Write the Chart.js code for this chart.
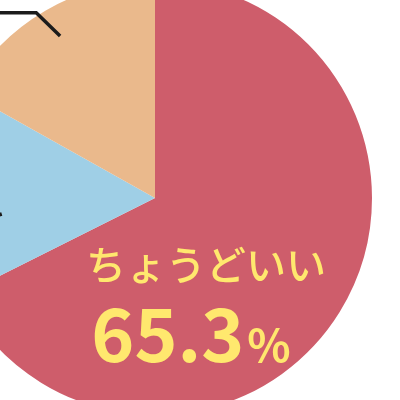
<!DOCTYPE html>
<html>
<head>
<meta charset="utf-8">
<script src="https://cdn.jsdelivr.net/npm/chart.js@4"></script>
<style>
  html, body { margin: 0; padding: 0; width: 400px; height: 400px; overflow: hidden; background: #fff; }
  #wrap { position: absolute; left: -62px; top: -19px; width: 434px; height: 434px; }
</style>
</head>
<body>
<div id="wrap"><canvas id="pie"></canvas></div>
<script>
// answers (the rest of 100% is "no answer", not drawn)
const categories = ["ちょうどいい", "少ない", "多い"];
const percents = [65.3, 15.0, 16.3];
const sliceColors = ["#ce5d6b", "#9fcfe6", "#eab98c"];

// leader lines for the slices whose labels sit outside the picture
// frac: where in the slice, r0/r1: start and elbow radius (fraction of r)
const leaders = [
  null,
  { frac: 0.37, r0: 0.71, r1: 0.95, elbow: -3 },
  { frac: 0.5, r0: 0.865, r1: 1.014, elbow: -2.3 },
];

const labelPlugin = {
  id: "pieLabels",
  afterDatasetsDraw(chart) {
    const ctx = chart.ctx;
    const arcs = chart.getDatasetMeta(0).data;
    const cx = arcs[0].x, cy = arcs[0].y;

    // leader lines
    ctx.save();
    ctx.strokeStyle = "#1c1c1c";
    ctx.lineWidth = 3.5;
    ctx.lineJoin = "miter";
    arcs.forEach((arc, i) => {
      const l = leaders[i];
      if (!l) return;
      const a = arc.startAngle + (arc.endAngle - arc.startAngle) * l.frac;
      const r = arc.outerRadius;
      const x1 = cx + Math.cos(a) * r * l.r0, y1 = cy + Math.sin(a) * r * l.r0;
      const a2 = a + (l.elbow * Math.PI) / 180;
      const x2 = cx + Math.cos(a2) * r * l.r1, y2 = cy + Math.sin(a2) * r * l.r1;
      ctx.beginPath();
      ctx.moveTo(x1, y1);
      ctx.lineTo(x2, y2);
      ctx.lineTo(x2 - 80, y2);
      ctx.stroke();
    });
    ctx.restore();

    // main label in the big slice
    ctx.save();
    ctx.fillStyle = "#ffe86e";
    ctx.textAlign = "center";
    ctx.textBaseline = "middle";
    ctx.font = '500 40px "Noto Sans CJK JP"';
    ctx.fillText(categories[0], cx + 51, cy + 67);

    const num = String(percents[0]);
    ctx.textBaseline = "alphabetic";
    ctx.textAlign = "left";
    ctx.font = '700 73px "Noto Sans CJK JP"';
    const wNum = ctx.measureText(num).width;
    ctx.font = '700 45px "Noto Sans CJK JP"';
    const wPct = ctx.measureText("%").width;
    const x0 = cx + 36 - (wNum + wPct + 3) / 2;
    const base = cy + 164;
    ctx.font = '700 73px "Noto Sans CJK JP"';
    ctx.fillText(num, x0, base);
    ctx.font = '700 45px "Noto Sans CJK JP"';
    ctx.fillText("%", x0 + wNum + 3, base);
    ctx.restore();
  },
};

new Chart(document.getElementById("pie"), {
  type: "pie",
  data: {
    labels: categories,
    datasets: [
      {
        data: percents,
        backgroundColor: sliceColors,
        borderWidth: 0,
      },
    ],
  },
  options: {
    responsive: true,
    maintainAspectRatio: false,
    animation: false,
    layout: { padding: 0 },
    plugins: {
      legend: { display: false },
      tooltip: { enabled: false },
    },
  },
  plugins: [labelPlugin],
});
</script>
</body>
</html>
